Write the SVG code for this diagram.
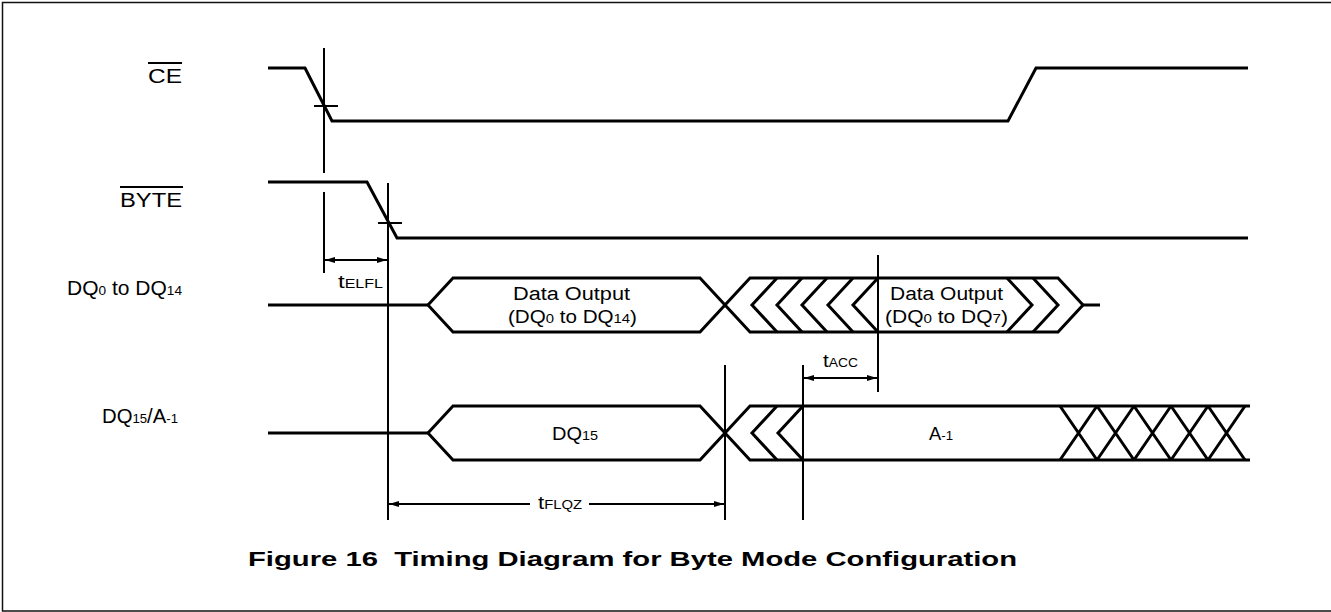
<svg xmlns="http://www.w3.org/2000/svg" width="1331" height="612" viewBox="0 0 1331 612">
<style>
.w{fill:none;stroke:#000;stroke-width:3;stroke-linejoin:miter}
.r{fill:none;stroke:#000;stroke-width:2}
.t{font-family:"Liberation Sans",Arial,Helvetica,sans-serif;fill:#000}
.lab{font-size:20px}
.bus{font-size:18px}
.sub{font-size:13px}
.tm{font-size:18px}
.tsub{font-size:12px}
.title{font-size:21px;font-weight:bold}
</style>
<defs>
<marker id="ah" viewBox="0 0 10 6" refX="10" refY="3" markerWidth="10" markerHeight="6" markerUnits="userSpaceOnUse" orient="auto-start-reverse">
<path d="M0,0 L10,3 L0,6 Z" fill="#000"/>
</marker>
</defs>
<rect x="2.5" y="2.5" width="1330" height="608.5" fill="#fff" stroke="#111" stroke-width="1.5"/>

<g id="ce">
<text class="t lab" x="148" y="83" textLength="34" lengthAdjust="spacingAndGlyphs">CE</text>
<line class="r" x1="148" y1="63" x2="182" y2="63"/>
<path class="w" d="M268,68 H305 L332,121 H1008 L1036,68 H1248"/>
</g>

<g id="byte">
<text class="t lab" x="120" y="207" textLength="62" lengthAdjust="spacingAndGlyphs">BYTE</text>
<line class="r" x1="120" y1="187" x2="183" y2="187"/>
<path class="w" d="M268,182 H367 L397,238 H1248"/>
</g>

<g id="dq0">
<text class="t lab" x="67" y="295" textLength="115" lengthAdjust="spacingAndGlyphs">DQ<tspan class="sub">0</tspan> to DQ<tspan class="sub">14</tspan></text>
<path class="w" d="M268,305 H428"/>
<path class="w" d="M428,305 L453,278 H700 L725,305 L700,332 H453 Z"/>
<text class="t bus" x="513" y="300" textLength="117" lengthAdjust="spacingAndGlyphs">Data Output</text>
<text class="t bus" x="508" y="323" textLength="129" lengthAdjust="spacingAndGlyphs">(DQ<tspan class="sub">0</tspan> to DQ<tspan class="sub">14</tspan>)</text>
<path class="w" d="M725,305 L750,278 H1058 L1083,305 L1058,332 H750 Z"/>
<path class="w" d="M777,278 L752,305 L777,332 M802,278 L777,305 L802,332 M827,278 L802,305 L827,332 M853,278 L828,305 L853,332 M878,278 L853,305 L878,332"/>
<path class="w" d="M1007,278 L1032,305 L1007,332 M1033,278 L1058,305 L1033,332"/>
<path class="w" d="M1083,305 H1100"/>
<text class="t bus" x="890" y="300" textLength="113" lengthAdjust="spacingAndGlyphs">Data Output</text>
<text class="t bus" x="885" y="323" textLength="123" lengthAdjust="spacingAndGlyphs">(DQ<tspan class="sub">0</tspan> to DQ<tspan class="sub">7</tspan>)</text>
</g>

<g id="dq15">
<text class="t lab" x="102" y="423" textLength="76" lengthAdjust="spacingAndGlyphs">DQ<tspan class="sub">15</tspan>/A<tspan class="sub">-1</tspan></text>
<path class="w" d="M268,433 H428"/>
<path class="w" d="M428,433 L453,406 H700 L725,433 L700,460 H453 Z"/>
<text class="t bus" x="552" y="440" textLength="46" lengthAdjust="spacingAndGlyphs">DQ<tspan class="sub">15</tspan></text>
<path class="w" d="M725,433 L750,406 H1250 M725,433 L750,460 H1250"/>
<path class="w" d="M777,406 L752,433 L777,460 M803,406 L778,433 L803,460"/>
<path class="w" d="M1060,406 L1097,460 M1060,460 L1097,406 M1097,406 L1134,460 M1097,460 L1134,406 M1134,406 L1171,460 M1134,460 L1171,406 M1171,406 L1208,460 M1171,460 L1208,406 M1208,406 L1245,460 M1208,460 L1245,406"/>
<text class="t bus" x="929" y="440" textLength="24" lengthAdjust="spacingAndGlyphs">A<tspan class="sub">-1</tspan></text>
</g>

<g id="connectors">
<line class="r" x1="324" y1="48" x2="324" y2="173"/>
<line class="r" x1="324" y1="192" x2="324" y2="273"/>
<line class="r" x1="314" y1="106" x2="338" y2="106"/>
<line class="r" x1="388" y1="183" x2="388" y2="520"/>
<line class="r" x1="378" y1="223" x2="402" y2="223"/>
<line class="r" x1="878" y1="255" x2="878" y2="392"/>
<line class="r" x1="725" y1="365" x2="725" y2="520"/>
<line class="r" x1="803" y1="365" x2="803" y2="520"/>
<line class="r" x1="325" y1="260" x2="387" y2="260" marker-start="url(#ah)" marker-end="url(#ah)"/>
<line class="r" x1="804" y1="378" x2="877" y2="378" marker-start="url(#ah)" marker-end="url(#ah)"/>
<line class="r" x1="389" y1="504" x2="530" y2="504" marker-start="url(#ah)"/>
<line class="r" x1="589" y1="504" x2="724" y2="504" marker-end="url(#ah)"/>
<text class="t tm" x="338" y="288" textLength="45" lengthAdjust="spacingAndGlyphs">t<tspan class="tsub">ELFL</tspan></text>
<text class="t tm" x="823" y="367" textLength="35" lengthAdjust="spacingAndGlyphs">t<tspan class="tsub">ACC</tspan></text>
<text class="t tm" x="538" y="509" textLength="44" lengthAdjust="spacingAndGlyphs">t<tspan class="tsub">FLQZ</tspan></text>
</g>

<g id="caption">
<text class="t title" x="248" y="566" textLength="769" lengthAdjust="spacingAndGlyphs" xml:space="preserve">Figure 16  Timing Diagram for Byte Mode Configuration</text>
</g>
</svg>
